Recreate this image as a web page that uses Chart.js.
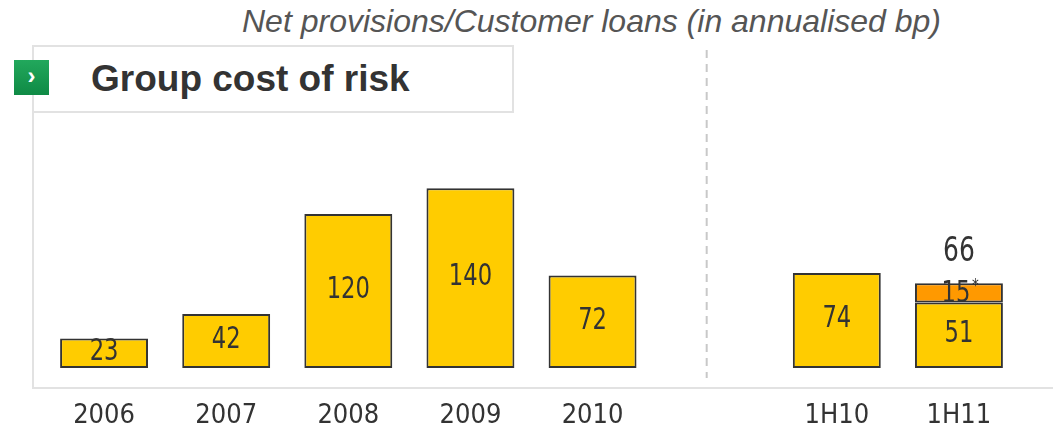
<!DOCTYPE html>
<html lang="en">
<head>
  <meta charset="UTF-8" />
  <title>Group cost of risk</title>
  <script src="https://cdn.jsdelivr.net/npm/chart.js"></script>
  <style>
    body { margin: 0; background: #fff; font-family: "Liberation Sans", Arial, sans-serif; }
    #wrap { position: relative; width: 1053px; height: 429px; overflow: hidden; }
    #chart { position: absolute; left: 0; top: 0; }
    .subtitle { position: absolute; left: 0; width: 1183px; top: 3px; text-align: center;
      font-style: italic; font-size: 32px; color: #555; white-space: nowrap; }
    .frame { position: absolute; left: 32px; top: 45px; width: 1030px; height: 342px;
      border-left: 2px solid #e2e2e2; border-bottom: 2px solid #e2e2e2; }
    .titlebox { position: absolute; left: 32px; top: 45px; width: 478px; height: 64px;
      border: 2px solid #e2e2e2; background: #fff; }
    .titlebox span { position: absolute; left: 57px; top: 11px; font-weight: bold;
      font-size: 37px; color: #333; white-space: nowrap; }
    .icon { position: absolute; left: 14px; top: 60px; width: 35px; height: 35px;
      background: linear-gradient(#22a85c, #0f8a45); color: #fff; font-weight: bold;
      font-size: 24px; line-height: 32px; text-align: center; }
  </style>
</head>
<body>
<div id="wrap">
  <div class="subtitle">Net provisions/Customer loans (in annualised bp)</div>
  <div class="frame"></div>
  <div class="titlebox"><span>Group cost of risk</span></div>
  <div class="icon">›</div>
  <canvas id="chart" width="1053" height="429"></canvas>
</div>

<script>
  // categories (blank slot separates yearly and half-year figures)
  const periods = ['2006', '2007', '2008', '2009', '2010', '', '1H10', '1H11'];
  const baseCost = [23, 42, 120, 140, 72, null, 74, 51];
  const extraCost = [null, null, null, null, null, null, null, 15];
  const totalLabels = [null, null, null, null, null, null, null, 66];

  const labelFont = '"Liberation Sans Narrow", "DejaVu Sans Condensed", sans-serif';

  // draw narrow, tall text (condensed look)
  function tallText(ctx, text, x, y, size) {
    ctx.save();
    ctx.translate(x, y);
    ctx.scale(0.84, 1);
    ctx.font = size + 'px ' + labelFont;
    ctx.fillText(text, 0, 0);
    const w = ctx.measureText(text).width * 0.84;
    ctx.restore();
    return w;
  }

  const labelsPlugin = {
    id: 'barLabels',
    afterDatasetsDraw(chart) {
      const ctx = chart.ctx;
      const x = chart.scales.x;
      ctx.save();
      ctx.fillStyle = '#333';
      ctx.textAlign = 'center';
      ctx.textBaseline = 'middle';

      chart.data.datasets.forEach((ds, di) => {
        const meta = chart.getDatasetMeta(di);
        meta.data.forEach((bar, i) => {
          const v = ds.data[i];
          if (v == null) return;
          const cy = (bar.y + bar.base) / 2;
          if (di === 1) {
            const w = tallText(ctx, String(v), bar.x - 3, cy + 1, 30);
            tallText(ctx, '*', bar.x - 3 + w / 2 + 5, cy - 7, 18);
          } else {
            tallText(ctx, String(v), bar.x, cy - 1, 30);
          }
        });
      });

      // total on top of stacked bar
      const top = chart.getDatasetMeta(1);
      totalLabels.forEach((t, i) => {
        if (t == null) return;
        const bar = top.data[i];
        tallText(ctx, String(t), bar.x, bar.y - 31, 33);
      });

      // dashed separator between yearly and half-year bars
      const sx = (x.getPixelForValue(4) + x.getPixelForValue(6)) / 2 - 8;
      ctx.strokeStyle = '#c8c8c8';
      ctx.lineWidth = 2;
      ctx.setLineDash([8, 6]);
      ctx.beginPath();
      ctx.moveTo(sx, 50);
      ctx.lineTo(sx, 378);
      ctx.stroke();
      ctx.restore();
    }
  };

  new Chart(document.getElementById('chart'), {
    type: 'bar',
    data: {
      labels: periods,
      datasets: [
        {
          label: 'Cost of risk',
          data: baseCost,
          backgroundColor: '#FFCC00',
          borderColor: '#333',
          borderWidth: 2,
          borderSkipped: false,
          barPercentage: 0.72,
          categoryPercentage: 1
        },
        {
          label: 'Additional',
          data: extraCost,
          backgroundColor: '#FF9900',
          borderColor: '#333',
          borderWidth: 2,
          borderSkipped: false,
          barPercentage: 0.72,
          categoryPercentage: 1
        }
      ]
    },
    options: {
      responsive: false,
      animation: false,
      layout: { padding: { left: 43, right: 33, top: 137, bottom: 0 } },
      plugins: {
        legend: { display: false },
        tooltip: { enabled: false }
      },
      scales: {
        x: {
          stacked: true,
          grid: { display: false, drawTicks: false },
          border: { display: false },
          afterFit(scale) { scale.height = 61; },
          ticks: {
            padding: 32,
            color: '#333',
            maxRotation: 0,
            autoSkip: false,
            font: { size: 27, family: labelFont }
          }
        },
        y: {
          stacked: true,
          display: false,
          min: 0,
          max: 180
        }
      }
    },
    plugins: [labelsPlugin]
  });
</script>
</body>
</html>
